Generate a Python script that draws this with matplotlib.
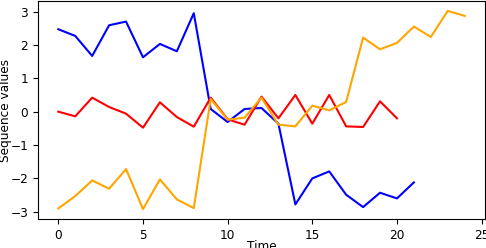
import numpy as np
import matplotlib
matplotlib.use('Agg')
import matplotlib.pyplot as plt

# sequence values
seq_blue = [2.47, 2.27, 1.67, 2.59, 2.70, 1.63, 2.03, 1.81, 2.95, 0.08, -0.31,
            0.08, 0.11, -0.36, -2.78, -2.00, -1.79, -2.49, -2.86, -2.43, -2.60, -2.12]
seq_red = [0.0, -0.14, 0.42, 0.14, -0.06, -0.48, 0.28, -0.16, -0.45, 0.42, -0.23,
           -0.39, 0.45, -0.20, 0.50, -0.36, 0.50, -0.44, -0.46, 0.31, -0.20]
seq_orange = [-2.90, -2.53, -2.06, -2.31, -1.72, -2.92, -2.03, -2.63, -2.89, 0.38,
              -0.24, -0.18, 0.42, -0.39, -0.44, 0.18, 0.04, 0.29, 2.22, 1.87, 2.06,
              2.55, 2.24, 3.02, 2.87]

plt.rcParams['font.size'] = 8.7

fig = plt.figure(figsize=(4.86, 2.48), dpi=100)
ax = fig.add_axes([38 / 486, 1 - 219 / 248, 447 / 486, 218 / 248])

ax.plot(np.arange(len(seq_blue)), seq_blue, color='blue')
ax.plot(np.arange(len(seq_red)), seq_red, color='red')
ax.plot(np.arange(len(seq_orange)), seq_orange, color='orange')

ax.set_xlabel('Time')
ax.set_ylabel('Sequence values')
ax.set_xticks([0, 5, 10, 15, 20, 25])
ax.yaxis.set_label_coords(-0.058, 0.5)
ax.xaxis.set_label_coords(0.5, -0.095)

fig.savefig('out.png', dpi=100)
